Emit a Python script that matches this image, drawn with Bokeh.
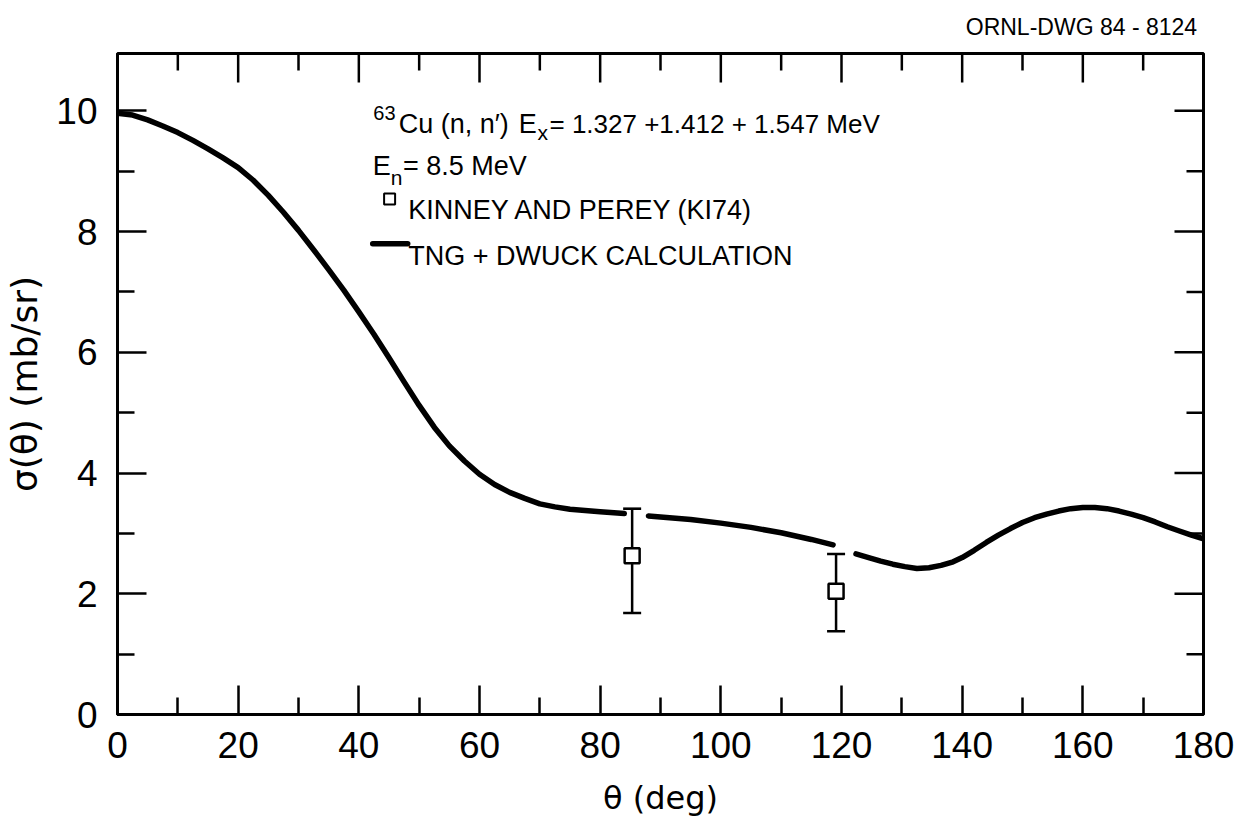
import math

from bokeh.plotting import figure
from bokeh.models import (FixedTicker, Range1d, Label, Whisker, TeeHead,
                          ColumnDataSource)
from bokeh.embed import file_html
from bokeh.resources import INLINE

NAN = math.nan

# TNG + DWUCK calculation (mb/sr vs deg); NaN marks the breaks in the curve
calc_theta = [0, 2.5, 5, 7.5, 10, 12.5, 15, 17.5, 20, 22.5, 25, 27.5, 30, 32.5, 35,
              37.5, 40, 42.5, 45, 47.5, 50, 52.5, 55, 57.5, 60, 62.5, 65, 67.5, 70,
              72.5, 75, 80, 84,
              NAN,
              88, 91.5, 95, 100, 105, 110, 115, 118.6,
              NAN,
              122.4, 124.5, 126.5, 128.5, 130.5, 132.5, 134.5, 136.5, 138.5, 140,
              142, 144, 146, 148, 150, 152, 154, 156, 158, 160, 162, 164, 166, 168,
              170, 172, 174, 176, 178, 180]
calc_sigma = [9.96, 9.93, 9.85, 9.75, 9.64, 9.51, 9.37, 9.22, 9.06, 8.85, 8.60, 8.32,
              8.02, 7.70, 7.37, 7.03, 6.67, 6.30, 5.91, 5.51, 5.12, 4.76, 4.45, 4.20,
              3.98, 3.81, 3.68, 3.58, 3.49, 3.44, 3.40, 3.36, 3.33,
              NAN,
              3.29, 3.26, 3.23, 3.17, 3.10, 3.01, 2.90, 2.81,
              NAN,
              2.66, 2.60, 2.54, 2.49, 2.45, 2.42, 2.43, 2.47, 2.53, 2.60,
              2.72, 2.85, 2.97, 3.08, 3.18, 3.26, 3.32, 3.37, 3.41, 3.43, 3.43, 3.41,
              3.37, 3.32, 3.26, 3.19, 3.11, 3.04, 2.97, 2.91]

# Kinney and Perey (KI74) measurements
exp_theta = [85.3, 119.1]
exp_sigma = [2.63, 2.04]
exp_lower = [1.68, 1.38]
exp_upper = [3.41, 2.66]

# tick positions
x_major_ticks = [0, 20, 40, 60, 80, 100, 120, 140, 160, 180]
x_minor_ticks = [10, 30, 50, 70, 90, 110, 130, 150, 170]
y_major_ticks = [0, 2, 4, 6, 8, 10]
y_minor_ticks = [1, 3, 5, 7, 9]

X_MAX = 180
Y_MAX = 10.95
FONT = "Liberation Sans"
LABEL_FONT = "DejaVu Sans"

p = figure(width=1243, height=820,
           x_range=Range1d(0, X_MAX), y_range=Range1d(0, Y_MAX),
           output_backend="svg", toolbar_location=None,
           min_border_left=117, min_border_right=40,
           min_border_top=53, min_border_bottom=106,
           background_fill_color="white", border_fill_color="white")
p.outline_line_color = "black"
p.outline_line_width = 3
p.xgrid.visible = False
p.ygrid.visible = False

# drawing number in the top right corner
p.title.text = "ORNL-DWG  84 - 8124"
p.title.align = "right"
p.title.vertical_align = "top"
p.title.text_font = FONT
p.title.text_font_size = "23px"
p.title.text_font_style = "normal"
p.title.text_color = "black"
p.title.standoff = 24
p.title.offset = 0

MAJOR_LEN = 29
MINOR_LEN = 17

for ax, major, minor in ((p.xaxis[0], x_major_ticks, x_minor_ticks),
                         (p.yaxis[0], y_major_ticks, y_minor_ticks)):
    ax.ticker = FixedTicker(ticks=major, minor_ticks=minor)
    ax.axis_line_width = 3
    ax.axis_line_color = "black"
    ax.major_tick_in = MAJOR_LEN
    ax.major_tick_out = 0
    ax.minor_tick_in = MINOR_LEN
    ax.minor_tick_out = 0
    ax.major_tick_line_width = 2.5
    ax.minor_tick_line_width = 2.5
    ax.major_tick_line_color = "black"
    ax.minor_tick_line_color = "black"
    ax.major_label_text_font = FONT
    ax.major_label_text_font_size = "37px"
    ax.major_label_text_color = "black"
    ax.axis_label_text_font = LABEL_FONT
    ax.axis_label_text_font_style = "normal"
    ax.axis_label_text_color = "black"

p.xaxis[0].axis_label = "θ (deg)"
p.yaxis[0].axis_label = "σ(θ) (mb/sr)"
p.xaxis[0].axis_label_text_font_size = "32px"
p.yaxis[0].axis_label_text_font_size = "36px"
p.xaxis[0].major_label_standoff = 17
p.yaxis[0].major_label_standoff = 20
p.xaxis[0].axis_label_standoff = 18
p.yaxis[0].axis_label_standoff = 8

# inward ticks mirrored on the top and right edges of the frame
px_per_x = (1243 - 117 - 40) / X_MAX
px_per_y = (820 - 53 - 106) / Y_MAX
tick_kw = dict(line_color="black", line_width=2.5, line_cap="butt")
p.segment(x0=x_major_ticks, y0=[Y_MAX] * len(x_major_ticks),
          x1=x_major_ticks, y1=[Y_MAX - MAJOR_LEN / px_per_y] * len(x_major_ticks),
          **tick_kw)
p.segment(x0=x_minor_ticks, y0=[Y_MAX] * len(x_minor_ticks),
          x1=x_minor_ticks, y1=[Y_MAX - MINOR_LEN / px_per_y] * len(x_minor_ticks),
          **tick_kw)
p.segment(x0=[X_MAX] * len(y_major_ticks), y0=y_major_ticks,
          x1=[X_MAX - MAJOR_LEN / px_per_x] * len(y_major_ticks), y1=y_major_ticks,
          **tick_kw)
p.segment(x0=[X_MAX] * len(y_minor_ticks), y0=y_minor_ticks,
          x1=[X_MAX - MINOR_LEN / px_per_x] * len(y_minor_ticks), y1=y_minor_ticks,
          **tick_kw)

# calculated angular distribution
p.line(calc_theta, calc_sigma, line_color="black", line_width=5.5,
       line_cap="round", line_join="round")

# measured points with error bars
src = ColumnDataSource(dict(theta=exp_theta, sigma=exp_sigma,
                            lo=exp_lower, hi=exp_upper))
p.add_layout(Whisker(base="theta", lower="lo", upper="hi", source=src,
                     line_color="black", line_width=2.5,
                     upper_head=TeeHead(size=18, line_width=2.5, line_color="black"),
                     lower_head=TeeHead(size=18, line_width=2.5, line_color="black")))
p.scatter("theta", "sigma", source=src, marker="square", size=15,
          fill_color="white", line_color="black", line_width=2.5)


# reaction header and key
def add_text(x, y, text, size, font=FONT):
    p.add_layout(Label(x=x, y=y, text=text, text_font=font,
                       text_font_size=size, text_color="black",
                       text_baseline="alphabetic", text_align="left"))


add_text(42.4, 9.97, "63", "20px")
add_text(46.6, 9.785, "Cu (n, n′)", "27px")
add_text(66.5, 9.785, "E", "27px")
add_text(69.6, 9.64, "x", "21px")
add_text(71.6, 9.785, "= 1.327 +1.412 + 1.547 MeV", "26px")

add_text(42.3, 9.09, "E", "27px")
add_text(45.3, 8.89, "n", "21px")
add_text(47.3, 9.09, "= 8.5 MeV", "27px")

key_sq_x = [45.1]
key_sq_y = [8.54]
p.scatter(key_sq_x, key_sq_y, marker="square", size=11,
          fill_color="white", line_color="black", line_width=2)
add_text(48.2, 8.36, "KINNEY AND PEREY (KI74)", "27px")

key_line_x = [42.3, 48.1]
key_line_y = [7.80, 7.80]
p.line(key_line_x, key_line_y, line_color="black", line_width=5.5, line_cap="round")
add_text(48.2, 7.60, "TNG + DWUCK CALCULATION", "27px")

open("out.html", "w").write(file_html(p, INLINE))
